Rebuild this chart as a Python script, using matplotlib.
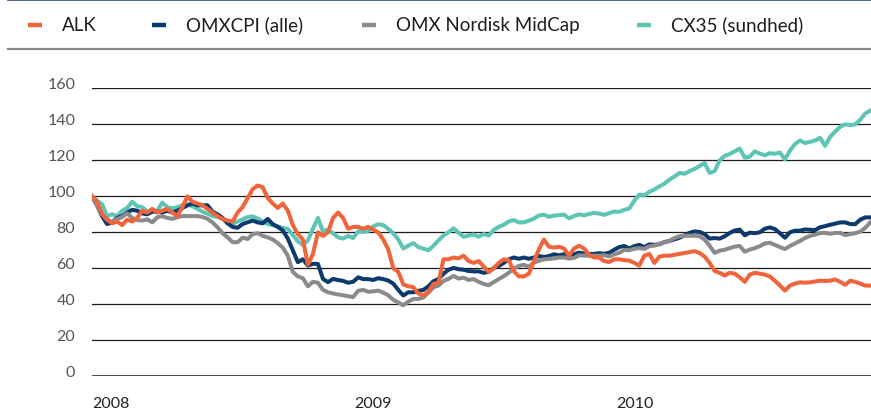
import pandas as pd
import matplotlib.pyplot as plt
from matplotlib.lines import Line2D

plt.rcParams['font.family'] = ['Lato', 'DejaVu Sans']

########## DATA (weekly index values, start = 100) ##########

labels = ["ALK", "OMXCPI (alle)", "OMX Nordisk MidCap", "CX35 (sundhed)"]
colors = ["#f0643c", "#0c3a6c", "#8b8b8e", "#5ec5b5"]

alk = [
    100, 97, 90, 87, 85, 86, 84, 87, 86, 88,
    92, 91, 93, 91, 92, 93, 91, 89, 94, 100,
    97, 96, 95, 93, 91, 89, 87.5, 86.5, 86, 91,
    94, 99, 104, 106, 105, 99, 96, 93.5, 96, 92,
    84, 79, 76, 62, 68, 80, 78, 80, 88, 91,
    88, 82, 83, 83, 82, 83, 81.5, 80, 76, 70.5,
    60, 58, 51, 50, 49.5, 46, 45, 47, 51.3, 52,
    65, 65, 66, 65.5, 67, 64, 63, 64, 61, 58,
    60, 63, 65, 64.5, 58.5, 55.5, 55.5, 57, 64, 70.5,
    76, 72, 71.5, 72, 71, 67, 71, 72.5, 71, 67.5,
    66, 66, 64, 63.5, 65, 65, 64.5, 64.3, 63, 61.5,
    67, 68, 63, 66.5, 67, 67, 67.5, 68, 68.5, 69,
    69.5, 68.5, 66.5, 63, 58.5, 57.5, 56, 57.5, 57, 55,
    52.5, 56.5, 57.5, 57, 56.5, 55.5, 53, 50.5, 47.6, 50.4,
    51.5, 52.2, 52, 52.2, 52.7, 53.1, 53, 53.1, 53.8, 52.5,
    50.8, 53.1, 52.5, 51.5, 50.4, 50.4,
]

omxcpi = [
    100, 95, 89, 84.6, 85.5, 88, 89, 91, 92.5, 92,
    90.5, 90, 91.5, 91.5, 91, 92, 91, 92, 93.5, 95,
    96, 95, 95, 95, 91.5, 90, 88, 85, 83, 82.5,
    84.6, 85.6, 86.5, 85.5, 85, 87.4, 84.5, 83, 81, 76.5,
    70, 63.4, 65, 61.5, 62.5, 62.4, 54.1, 52.3, 54.1, 53.5,
    53, 52, 52.5, 55, 54, 54, 53.5, 54.5, 54, 53.2,
    51.5, 48, 44.9, 46.7, 46.7, 47.5, 48, 50, 52.8, 54,
    57, 59.2, 60.2, 59.5, 59.2, 58.5, 58.3, 58.3, 57.5, 58,
    60.2, 61.3, 63, 65, 66, 65.3, 66, 65.3, 66, 66.8,
    66.3, 66.8, 67.8, 67.2, 67.8, 67.2, 67.8, 68.7, 68.2, 68,
    68, 68.4, 68.1, 68.6, 70.3, 71.8, 72.4, 71, 72.3, 73,
    71.8, 73.3, 73, 73.4, 74.5, 75.2, 76.1, 77, 78.3, 79.7,
    80.5, 80.2, 79, 76.5, 76.8, 76.5, 77.8, 79.6, 81, 81.5,
    78.3, 79.8, 79.5, 80, 82, 82.7, 81.8, 79.5, 77, 80,
    80.9, 80.9, 81.6, 81.4, 81.2, 82.8, 83.4, 84.2, 84.8, 85.5,
    85.5, 84.6, 84.5, 87, 88.3, 88.3,
]

midcap = [
    100, 95, 90, 87.4, 85.5, 87.4, 88.5, 90.5, 88, 86.8,
    86.5, 87.2, 85.5, 88.4, 89, 88, 87.5, 88.4, 89, 89,
    89, 89, 88.5, 87.5, 85.5, 82.8, 79.5, 77.2, 74.5, 74.5,
    77, 76.3, 79, 79.5, 78, 77.2, 76, 74, 71.5, 67,
    58, 55.5, 54.5, 50, 52.5, 52, 48, 46.7, 46, 45.5,
    45, 44.5, 44, 47.5, 48, 47, 47.2, 47.6, 46.5, 45,
    42.5, 41, 39.5, 41.5, 43, 43, 43.8, 46.5, 49.5, 50.4,
    53, 54.1, 55.8, 54.3, 54.8, 53.5, 54, 52.5, 51.3, 50.6,
    52.3, 54, 55.6, 57.5, 59.8, 61.3, 62, 60.8, 63.2, 64.2,
    65, 65.2, 65.5, 66, 66, 65.4, 65.8, 67.2, 67.1, 67,
    67, 67, 67.3, 66.6, 67.8, 68.6, 70.2, 70, 70.9, 71.2,
    70.8, 72.3, 72.6, 73.6, 74.5, 75.2, 76.8, 77.8, 78.1, 78.1,
    78.1, 77.8, 76, 72.5, 68.6, 69.8, 70.3, 71.2, 72, 72.4,
    69.2, 70.4, 71.2, 72.3, 73.8, 74.2, 73, 71.8, 70.7, 72.4,
    73.8, 75.2, 76.8, 78, 78.7, 79.6, 79.7, 79.2, 79.6, 79.7,
    78.4, 79, 79.5, 80.4, 82.5, 85.5,
]

cx35 = [
    100, 97.6, 95.7, 89, 90, 89, 92, 93.5, 97, 94.5,
    94, 91.5, 91.5, 92, 96.5, 94, 93.3, 94, 95, 95.5,
    94.5, 93, 91.5, 90.3, 89, 88.5, 87.4, 85.6, 84.8, 86,
    87.2, 88.5, 88.8, 87.6, 86, 84.6, 84, 83.3, 82.5, 81.9,
    78.5, 75, 73, 75.5, 82, 88, 80.5, 81.5, 79.5, 77.2,
    76.5, 78, 76.8, 80.5, 80.2, 80.8, 83.2, 84.5, 84, 81.9,
    79.5, 76, 71, 72.6, 74, 71.8, 70.9, 70, 72.5, 75.5,
    78.2, 80, 82.2, 79.8, 77.5, 78.2, 78.8, 77.5, 79, 78.2,
    81.3, 83, 84.2, 86, 86.8, 85.5, 85.5, 86.5, 87.6, 89.3,
    89.8, 88.6, 89.3, 89.5, 89.8, 87.8, 89, 90, 89.4, 90.2,
    90.8, 90.4, 89.7, 90.6, 91.6, 91.3, 92.5, 93.2, 97.5, 101,
    100.5, 102.5, 103.8, 105.5, 107, 109.2, 111, 113, 112.5, 114,
    115.2, 116.8, 118.5, 113, 114, 120, 122.4, 123.5, 125, 126.5,
    121.5, 122, 125, 123.7, 122.8, 124, 123.6, 124.3, 120.5, 125.4,
    129, 131, 129.6, 130.2, 131, 132.5, 128, 133, 136, 138.6,
    140, 139.5, 140, 142.5, 146, 147.6,
]

weeks = pd.date_range("2008-01-01", periods=len(alk), freq="7D")
years = ["2008", "2009", "2010"]
yticks = list(range(0, 161, 20))

########## PLOT ##########

fig = plt.figure(figsize=(8.71, 4.10), dpi=100)
ax = fig.add_axes([92 / 871, 1 - 377.3 / 410, 779 / 871, 288 / 410])

series = [alk, omxcpi, midcap, cx35]
zorders = [5, 3, 4, 2]
for vals, col, z in zip(series, colors, zorders):
    ax.plot(weeks, vals, color=col, linewidth=2.9, zorder=z, solid_joinstyle="round")

ax.set_ylim(0, 160)
ax.set_xlim(pd.Timestamp("2008-01-01"), pd.Timestamp("2008-01-01") + pd.Timedelta(days=1086))

for v in yticks:
    ax.axhline(v, color="#1c1c1c", linewidth=1.1 if v == 0 else 0.9, zorder=1)

for s in ax.spines.values():
    s.set_visible(False)

ax.set_yticks(yticks)
ax.set_yticklabels([str(v) for v in yticks], fontsize=11.5, color="#555555")
for lab in ax.get_yticklabels():
    lab.set_verticalalignment("baseline")
ax.tick_params(axis="y", length=0, pad=12)

ax.set_xticks([pd.Timestamp(y + "-01-01") for y in years])
ax.set_xticklabels(years, fontsize=11.5, color="#222222", ha="left")
ax.tick_params(axis="x", length=0, pad=14)

# legend strip on top
fig.add_artist(Line2D([8 / 871, 1], [1 - 0.8 / 410] * 2, color="#2c4a72", linewidth=1.2))
fig.add_artist(Line2D([8 / 871, 1], [1 - 49.5 / 410] * 2, color="#8a8a8a", linewidth=1.6))

text_x = [62, 186, 396, 671]
for lab, col, tx in zip(labels, colors, text_x):
    fig.add_artist(Line2D([(tx - 34) / 871, (tx - 20) / 871], [1 - 25.5 / 410] * 2,
                          color=col, linewidth=3.2, solid_capstyle="butt"))
    fig.text(tx / 871, 1 - 25.5 / 410, lab, fontsize=13.5, color="#1e1e1e", va="center", ha="left")

fig.savefig("out.png", dpi=100)
plt.close(fig)
